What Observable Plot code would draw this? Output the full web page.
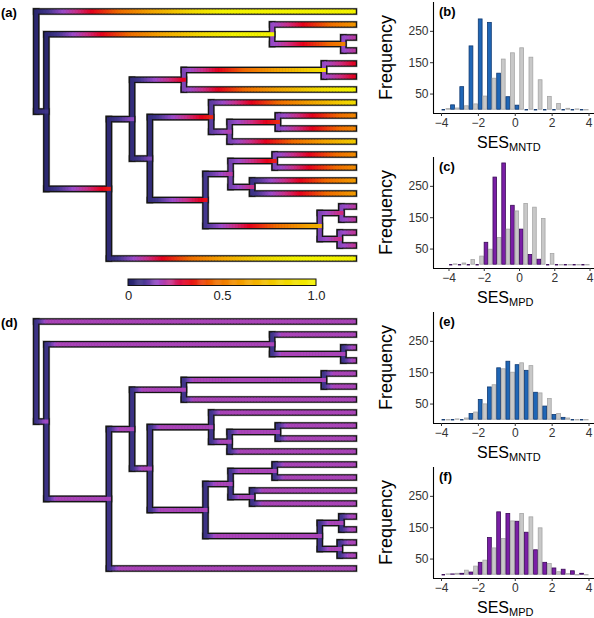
<!DOCTYPE html>
<html><head><meta charset="utf-8">
<script src="https://cdn.jsdelivr.net/npm/d3@7"></script>
<script src="https://cdn.jsdelivr.net/npm/@observablehq/plot@0.6"></script>
<style>
body{margin:0;background:#fff;}
#root{position:relative;width:594px;height:618px;overflow:hidden;font-family:"Liberation Sans",Arial,Helvetica,sans-serif;}
#root > svg{position:absolute;overflow:visible;}
</style></head><body><div id="root"></div>
<script>
// ---------------- DATA ----------------
// Histogram bins (left edges, width 0.5), observed vs null counts
const binStart = [-4,-3.5,-3,-2.5,-2,-1.5,-1,-0.5,0,0.5,1,1.5,2,2.5,3,3.5];
const binWidth = 0.5;
const bObs  = [0,14,72,202,288,277,115,40,13,0,0,0,0,0,0,0];
const bNull = [2,4,11,17,42,99,160,180,196,166,94,41,18,3,1,0];
const cObs  = [0,0,0,0,70,278,323,188,112,31,16,0,0,0,0,0];
const cNull = [1,4,15,26,48,85,112,170,194,182,146,34,0,0,0,0];
const eObs  = [0,0,0,18,63,103,164,185,174,156,86,42,15,6,0,0];
const eNull = [0,1,4,23,49,110,161,150,180,171,84,66,18,4,0,0];
const fObs  = [0,1,3,7,38,117,199,194,169,134,78,38,20,16,11,3];
const fNull = [1,3,13,26,45,84,114,170,194,183,148,34,8,2,0,0];
const xTicks = [-4,-2,0,2,4];
const yTicks = [50,150,250];

// Tree topology (internal nodes, their depth from root, ordered children)
const internalNodes = ["root","A","B","B2","C","D","E","E1","F","G","G1","G2","H","I","I1","I2","J","J1","J2"];
const internalDepth = [0,0.032,0.743,0.967,0.229,0.302,0.465,0.906,0.358,0.551,0.609,0.761,0.533,0.612,0.751,0.680,0.893,0.961,0.956];
const nodeChildren = [["t1","A"],["B","C"],["t2","B2"],["t3","t4"],["D","t20"],["E","F"],["E1","t7"],["t5","t6"],["G","H"],["t8","G1"],["G2","t11"],["t9","t10"],["I","J"],["I1","I2"],["t12","t13"],["t14","t15"],["J1","J2"],["t16","t17"],["t18","t19"]];
const tipDepth = 1;
// colour value at start of branches leaving each node (tree a and tree d)
const startValueA = [0.02,0.02,0.15,0.15,0.03,0.04,0.13,0.15,0.04,0.10,0.12,0.13,0.08,0.12,0.13,0.06,0.13,0.14,0.14];
const startValueD = [0.06,0.06,0.07,0.07,0.06,0.06,0.07,0.07,0.06,0.07,0.07,0.07,0.06,0.07,0.07,0.06,0.07,0.07,0.07];

// Colour bar
const cmapStops  = [0, 0.08, 0.16, 0.23, 0.31, 0.45, 0.62, 0.82, 1];
const cmapColors = ["#222266","#44378f","#9d4ccb","#c9308a","#e6001c","#ef6a00","#f3a300","#f2d600","#f3f300"];
const cbTicks = [0, 0.5, 1];
const cbTickLabels = ["0","0.5","1.0"];

// ---------------- HELPERS ----------------
const FONT = "Liberation Sans, Arial, Helvetica, sans-serif";
const cmap = d3.scaleLinear().domain(cmapStops).range(cmapColors).clamp(true);
const root = document.getElementById("root");
function place(svg, left, top){ svg.style.left = left+"px"; svg.style.top = top+"px"; root.appendChild(svg); return svg; }

function layoutTree(){
  const depth = new Map(), y = new Map(), parent = new Map();
  internalNodes.forEach((n,i)=>depth.set(n, internalDepth[i]));
  let tip = 0;
  (function visit(n){
    const i = internalNodes.indexOf(n);
    if (i < 0){ depth.set(n, tipDepth); y.set(n, ++tip); return; }
    const ch = nodeChildren[i];
    ch.forEach(c=>{ parent.set(c, n); visit(c); });
    y.set(n, (y.get(ch[0]) + y.get(ch[ch.length-1]))/2);
  })("root");
  return {depth, y, parent, nTips: tip};
}

function treePlot(startValues, rampLen, cap, label){
  const L = layoutTree();
  const xr = [35.7, 353.3], yr = [11, 258];
  const pxPerUnit = xr[1]-xr[0];
  const verts = internalNodes.map((n,i)=>({x:L.depth.get(n), y1:L.y.get(nodeChildren[i][0]), y2:L.y.get(nodeChildren[i][nodeChildren[i].length-1]), col:cmap(startValues[i])}));
  const horiz = [...L.parent].map(([c,p])=>({x1:L.depth.get(p), x2:L.depth.get(c), y:L.y.get(c), v0:startValues[internalNodes.indexOf(p)]}));
  const segs = [];
  horiz.forEach(h=>{
    const len = h.x2-h.x1, n = Math.max(2, Math.ceil(len*pxPerUnit/1.5));
    for(let k=0;k<n;k++){
      const a = h.x1+len*k/n, b = h.x1+len*(k+1)/n;
      const v = Math.min(cap, h.v0 + ((a+b)/2 - h.x1)/rampLen);
      const ext = (k===n-1 ? 2 : 0.6)/pxPerUnit;
      segs.push({a, b:b+ext, y:h.y, col:cmap(v)});
    }
  });
  const outline = (w, c)=>[
    Plot.link(verts,{x1:"x",x2:"x",y1:"y1",y2:"y2",stroke:c,strokeWidth:w,strokeLinecap:"square"}),
    Plot.link(horiz,{x1:"x1",x2:"x2",y1:"y",y2:"y",stroke:c,strokeWidth:w,strokeLinecap:"square"})
  ];
  const svg = Plot.plot({
    width:370, height:270, margin:0,
    x:{domain:[0,1], range:xr, axis:null},
    y:{domain:[1,L.nTips], range:yr, axis:null},
    color:{type:"identity"},
    style:{fontFamily:FONT, background:"transparent"},
    marks:[
      ...outline(7.6,"#b8b8b8"),
      ...outline(6.6,"#151515"),
      Plot.link(verts,{x1:"x",x2:"x",y1:"y1",y2:"y2",stroke:"col",strokeWidth:4,strokeLinecap:"square"}),
      Plot.link(segs,{x1:"a",x2:"b",y1:"y",y2:"y",stroke:"col",strokeWidth:4,strokeLinecap:"butt"})
    ]
  });
  d3.select(svg).append("text").attr("x",1).attr("y",17).attr("text-anchor","start").attr("font-size",13).attr("font-weight","bold").attr("font-family",FONT).text(label);
  return svg;
}

function colorBar(){
  const cells = d3.range(0,1,0.005).map(v=>({a:v, b:Math.min(1,v+0.007), col:cmap(v+0.0025)}));
  return Plot.plot({
    width:370, height:40, margin:0,
    x:{domain:[0,1], range:[128,316], axis:null},
    y:{domain:[0,1], range:[15.5,9], axis:null},
    color:{type:"identity"},
    style:{fontFamily:FONT, background:"transparent"},
    marks:[
      Plot.rect(cells,{x1:"a",x2:"b",y1:0,y2:1,fill:"col"}),
      Plot.rect([0],{x1:0,x2:1,y1:0,y2:1,fill:"none",stroke:"#111",strokeWidth:1}),
      Plot.text(cbTicks,{x:d=>d, frameAnchor:"top", lineAnchor:"middle", dy:25, text:(d,i)=>cbTickLabels[i], fontSize:13, fill:"#222"})
    ]
  });
}

function histPlot(obs, nul, fillObs, strokeObs, xDomain, label, sub){
  const rows = [];
  binStart.forEach((b,i)=>{
    rows.push({x1:b, x2:b+binWidth/2, n:obs[i], f:fillObs, s:strokeObs});
    rows.push({x1:b+binWidth/2, x2:b+binWidth, n:nul[i], f:"#c8c8c8", s:"#a6a6a6"});
  });
  const nz = rows.filter(d=>d.n>0), zr = rows.filter(d=>d.n===0);
  const svg = Plot.plot({
    width:224, height:155, marginLeft:63, marginRight:0, marginTop:2, marginBottom:42,
    x:{domain:xDomain},
    y:{domain:[-12,342]},
    style:{fontFamily:FONT, background:"transparent"},
    marks:[
      Plot.ruleY(zr.filter(d=>d.f==="#c8c8c8"),{x1:"x1",x2:"x2",y:0,stroke:"s",strokeWidth:1.2}),
      Plot.rect(nz,{x1:"x1",x2:"x2",y1:0,y2:"n",fill:"f",stroke:"s",strokeWidth:0.8,insetLeft:0.4,insetRight:0.4}),
      Plot.ruleY(zr.filter(d=>d.f!=="#c8c8c8"),{x1:"x1",x2:"x2",y:0,stroke:"s",strokeWidth:1.4,insetLeft:0.6,insetRight:0.6}),
      Plot.ruleX([xDomain[0]],{stroke:"#000",strokeWidth:1.1}),
      Plot.ruleY([-12],{stroke:"#000",strokeWidth:1.1}),
      Plot.axisX({ticks:xTicks, tickSize:3, tickPadding:2, fontSize:12, label:null, color:"#333"}),
      Plot.axisY({ticks:yTicks, tickSize:3, tickPadding:2, fontSize:12, label:null, color:"#333"})
    ]
  });
  const s = d3.select(svg);
  s.append("text").attr("x",69).attr("y",16).attr("text-anchor","start").attr("font-size",13).attr("font-weight","bold").attr("font-family",FONT).text(label);
  s.append("text").attr("transform","translate(22,57.5) rotate(-90)").attr("text-anchor","middle").attr("font-size",18).attr("font-family",FONT).attr("fill","#000").text("Frequency");
  const t = s.append("text").attr("x",107).attr("y",147.5).attr("text-anchor","start").attr("font-size",16).attr("font-family",FONT).attr("fill","#000");
  t.append("tspan").text("SES");
  t.append("tspan").attr("font-size",11).attr("dy",3).text(sub);
  return svg;
}

// ---------------- BUILD ----------------
const domWide = [-4.434, 4.297];
const domC = [-4.879, 4.253];
place(treePlot(startValueA, 0.6, 1, "(a)"), 0, 0);
place(treePlot(startValueD, 0.27, 0.18, "(d)"), 0, 310);
place(colorBar(), 0, 270);
place(histPlot(bObs, bNull, "#1f66b6", "#0f3870", domWide, "(b)", "MNTD"), 370, 0);
place(histPlot(cObs, cNull, "#7a1fa6", "#3a0b56", domC, "(c)", "MPD"), 370, 155);
place(histPlot(eObs, eNull, "#1f66b6", "#0f3870", domWide, "(e)", "MNTD"), 370, 310);
place(histPlot(fObs, fNull, "#7a1fa6", "#3a0b56", domWide, "(f)", "MPD"), 370, 465);
</script></body></html>
